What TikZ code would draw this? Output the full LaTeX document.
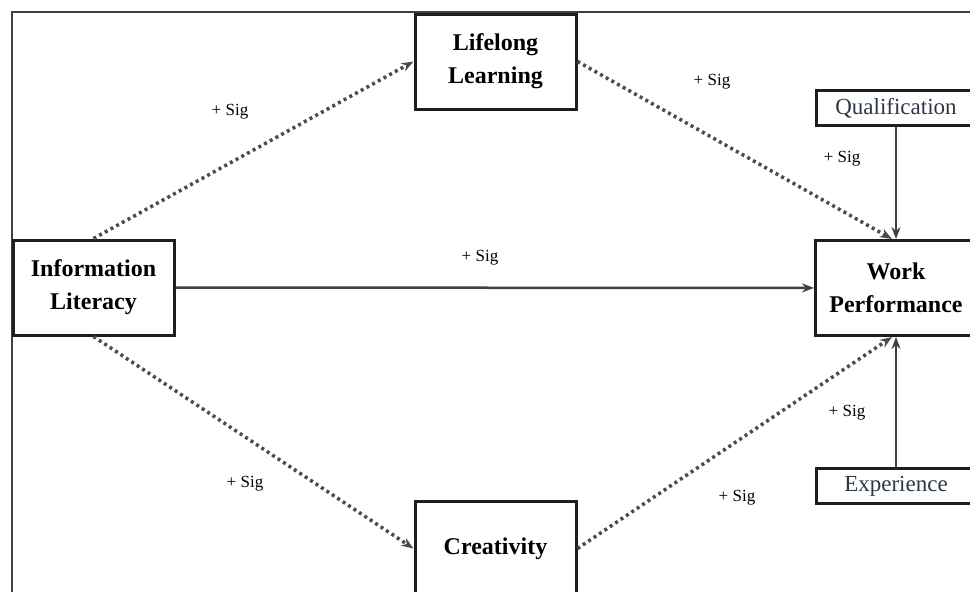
\documentclass[tikz,border=0pt]{standalone}
\usepackage{fontspec}
\setmainfont{Liberation Serif}
\usepackage{tikz}
\usetikzlibrary{arrows.meta, positioning}
\definecolor{boxline}{RGB}{30,30,30}
\definecolor{frameline}{RGB}{65,65,65}
\definecolor{dotline}{RGB}{75,75,75}
\definecolor{sidetext}{RGB}{45,55,70}
\tikzset{
  mainbox/.style={
    rectangle, draw=boxline, line width=3pt,
    minimum width=161pt, minimum height=95pt,
    align=center, font=\fontsize{24}{33}\selectfont\bfseries,
    inner sep=0pt
  },
  sidebox/.style={
    rectangle, draw=boxline, line width=3pt,
    minimum width=160pt, minimum height=35pt,
    font=\fontsize{23}{28}\selectfont, text=sidetext,
    inner sep=0pt
  },
  sig/.style={font=\fontsize{17}{20}\selectfont, inner sep=0pt},
  arrow/.style={-{Stealth[length=12pt,width=9pt]}, line width=2.5pt, color=frameline},
  dotarrow/.style={arrow, color=dotline, line width=3.5pt, dash pattern=on 3pt off 3.5pt}
}
\begin{document}
\begin{tikzpicture}[x=1pt, y=-1pt]

  \clip (0,0) rectangle (970,592);
  \fill[white] (0,0) rectangle (970,592);

  % outer frame
  \draw[frameline, line width=2.2pt] (12,620) -- (12,12) -- (990,12);

  % Constructs
  \node[mainbox] (info) at (93.5,287.5) {Information\\Literacy};
  \node[mainbox] (life) at (495.5,61.5) {Lifelong\\Learning};
  \node[mainbox] (crea) at (495.5,548.5) {Creativity};
  \node[mainbox] (work) at (896,288) {Work\\Performance};

  % Controls
  \node[sidebox, above=112pt of work] (qual) {Qualification};
  \node[sidebox, below=130pt of work] (expe) {Experience};

  % Paths via mediators
  \draw[dotarrow] (info.north) -- (life.west);
  \draw[dotarrow] (life.east) -- ([xshift=-4pt]work.north);
  \draw[dotarrow] (info.south) -- (crea.west);
  \draw[dotarrow] (crea.east) -- ([xshift=-4pt]work.south);

  % Direct path and controls
  \draw[arrow] (info) -- (work);
  \draw[arrow] (qual) -- (work);
  \draw[arrow] (expe) -- (work);

  % Significance labels
  \node[sig] (sigil) at (230,112) {+ Sig};
  \node[sig] (siglw) at (712,82) {+ Sig};
  \node[sig] (sigqw) at (842,159) {+ Sig};
  \node[sig] (sigiw) at (480,258) {+ Sig};
  \node[sig] (sigic) at (245,484) {+ Sig};
  \node[sig] (sigcw) at (737,498) {+ Sig};
  \node[sig] (sigew) at (847,413) {+ Sig};

\end{tikzpicture}
\end{document}
